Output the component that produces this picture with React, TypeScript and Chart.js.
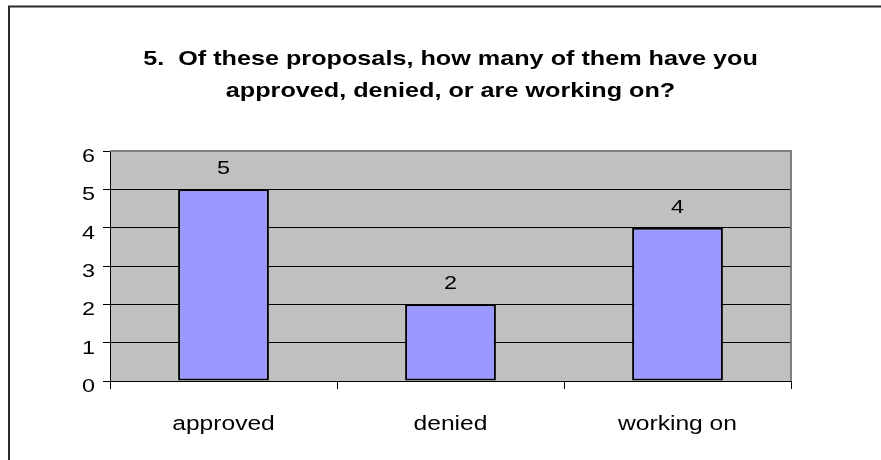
import React, { useEffect, useRef } from "react";
import { Chart, registerables } from "chart.js";

Chart.register(...registerables);

const categories = ["approved", "denied", "working on"];
const counts = [5, 2, 4];
const titleLines = [
  "5.  Of these proposals, how many of them have you",
  "approved, denied, or are working on?",
];
const yTicks = [0, 1, 2, 3, 4, 5, 6];
const yMin = 0;
const yMax = 6;

const FONT = "'Liberation Sans', Arial, sans-serif";

function stretchedText(
  ctx: CanvasRenderingContext2D,
  text: string,
  x: number,
  y: number,
  font: string,
  align: CanvasTextAlign,
  sx: number
) {
  ctx.save();
  ctx.font = font;
  ctx.fillStyle = "#000";
  ctx.textAlign = align;
  ctx.textBaseline = "alphabetic";
  ctx.translate(x, y);
  ctx.scale(sx, 1);
  ctx.fillText(text, 0, 0);
  ctx.restore();
}

const framePlugin = {
  id: "frame",
  beforeDraw(chart: any) {
    const { ctx, chartArea } = chart;
    ctx.save();
    ctx.fillStyle = "#ffffff";
    ctx.fillRect(0, 0, chart.width, chart.height);
    ctx.strokeStyle = "#2a2a2a";
    ctx.lineWidth = 2;
    ctx.beginPath();
    ctx.moveTo(9, chart.height);
    ctx.lineTo(9, 6.5);
    ctx.lineTo(chart.width, 6.5);
    ctx.stroke();
    ctx.fillStyle = "#c0c0c0";
    ctx.fillRect(chartArea.left, chartArea.top, chartArea.right - chartArea.left, chartArea.bottom - chartArea.top);
    ctx.restore();
  },
  afterDatasetsDraw(chart: any) {
    const { ctx, chartArea, scales } = chart;
    ctx.save();
    ctx.strokeStyle = "#808080";
    ctx.lineWidth = 2;
    ctx.beginPath();
    ctx.moveTo(chartArea.left, chartArea.top);
    ctx.lineTo(chartArea.right, chartArea.top);
    ctx.lineTo(chartArea.right, chartArea.bottom);
    ctx.stroke();
    ctx.restore();

    // title
    const cx = (chartArea.left + chartArea.right) / 2;
    stretchedText(ctx, titleLines[0], cx, 65, `bold 21px ${FONT}`, "center", 1.2);
    stretchedText(ctx, titleLines[1], cx, 97, `bold 21px ${FONT}`, "center", 1.2);

    // y tick labels
    yTicks.forEach((v) => {
      const py = scales.y.getPixelForValue(v);
      stretchedText(ctx, String(v), 95, py + 11, `19px ${FONT}`, "right", 1.23);
    });

    // category labels
    categories.forEach((c, i) => {
      const px = scales.x.getPixelForValue(i);
      stretchedText(ctx, c, px, 429.5, `20px ${FONT}`, "center", 1.23);
    });

    // data labels
    const meta = chart.getDatasetMeta(0);
    meta.data.forEach((bar: any, i: number) => {
      stretchedText(ctx, String(counts[i]), bar.x, bar.y - 15, `19px ${FONT}`, "center", 1.23);
    });
  },
};

export default function App() {
  const ref = useRef<HTMLCanvasElement | null>(null);
  useEffect(() => {
    if (!ref.current) return;
    const chart = new Chart(ref.current, {
      type: "bar",
      data: {
        labels: categories,
        datasets: [
          {
            data: counts,
            backgroundColor: "#9999ff",
            borderColor: "#000000",
            borderWidth: 2,
            borderSkipped: false,
            barPercentage: 0.4,
            categoryPercentage: 1,
          },
        ],
      },
      options: {
        animation: false,
        responsive: false,
        devicePixelRatio: 1,
        layout: { padding: { left: 0, right: 90, top: 151, bottom: 0 } },
        plugins: {
          legend: { display: false },
          tooltip: { enabled: false },
          title: { display: false },
        },
        scales: {
          x: {
            afterFit: (s: any) => {
              s.height = 79;
            },
            grid: {
              offset: true,
              drawOnChartArea: false,
              drawTicks: true,
              tickLength: 8,
              tickColor: "#000",
            },
            border: { display: true, color: "#000", width: 1 },
            ticks: { display: false },
          },
          y: {
            min: yMin,
            max: yMax,
            afterFit: (s: any) => {
              s.width = 110;
            },
            grid: {
              color: (c: any) => (c.tick && c.tick.value === yMax ? "rgba(0,0,0,0)" : "#000"),
              lineWidth: 1,
              drawTicks: true,
              tickLength: 7,
              tickColor: "#000",
            },
            border: { display: true, color: "#000", width: 1 },
            ticks: { stepSize: 1, display: false },
          },
        },
      },
      plugins: [framePlugin],
    } as any);
    return () => chart.destroy();
  }, []);
  return (
    <div style={{ position: "absolute", left: 0, top: 0, width: 881, height: 460 }}>
      <canvas ref={ref} width={881} height={460} />
    </div>
  );
}
